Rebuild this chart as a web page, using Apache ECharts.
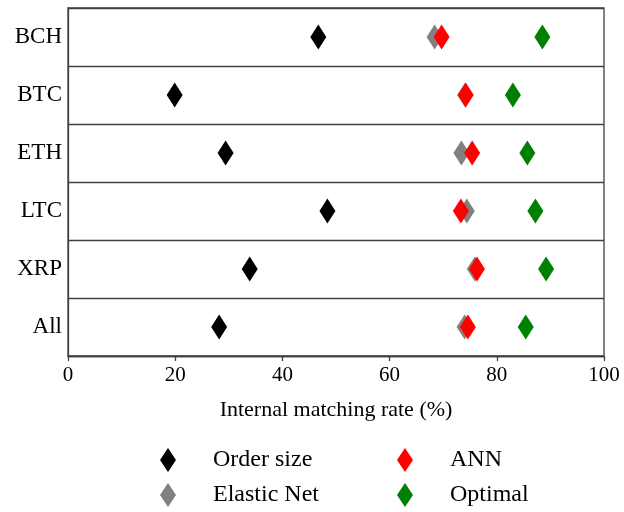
<!DOCTYPE html>
<html>
<head>
<meta charset="utf-8">
<script src="https://cdn.jsdelivr.net/npm/echarts@6/dist/echarts.min.js"></script>
<style>html,body{margin:0;padding:0;background:#fff;}#chart{width:624px;height:512px;}</style>
</head>
<body>
<div id="chart"></div>
<script>
const categories = ['BCH', 'BTC', 'ETH', 'LTC', 'XRP', 'All'];
const orderSize  = [46.7, 19.9, 29.4, 48.4, 33.9, 28.2];
const elasticNet = [68.4, 74.1, 73.4, 74.4, 75.9, 74.0];
const ann        = [69.7, 74.2, 75.4, 73.3, 76.3, 74.6];
const optimal    = [88.5, 83.0, 85.7, 87.2, 89.2, 85.4];
const xTicks = [0, 20, 40, 60, 80, 100];

const FONT = '"Liberation Serif", "DejaVu Serif", serif';
const chart = echarts.init(document.getElementById('chart'), null, {renderer: 'canvas'});

function mk(name, vals, color) {
  return {
    name: name,
    type: 'scatter',
    symbol: 'diamond',
    symbolSize: [16, 25],
    itemStyle: {color: color, opacity: 1},
    emphasis: {disabled: true},
    data: vals.map((v, i) => [v, categories[i]])
  };
}

function lg(name, left, top) {
  return {
    left: left, top: top,
    data: [name],
    icon: 'diamond',
    itemWidth: 16,
    itemHeight: 24,
    textStyle: {fontFamily: FONT, fontSize: 24, color: '#000', padding: [0, 0, 0, 32]},
    selectedMode: false,
    padding: 0
  };
}

chart.setOption({
  animation: false,
  backgroundColor: '#fff',
  grid: {left: 68, right: 20, top: 8, bottom: 156, show: true, borderColor: '#404040', borderWidth: 1.3, backgroundColor: 'transparent'},
  xAxis: {
    type: 'value', min: 0, max: 100, interval: 20,
    axisLine: {show: true, lineStyle: {color: '#404040', width: 1.3}},
    axisTick: {show: true, length: 5, lineStyle: {color: '#404040', width: 1.3}},
    splitLine: {show: false},
    axisLabel: {fontFamily: FONT, fontSize: 21, color: '#000', margin: 9,
      formatter: v => xTicks.includes(v) ? String(v) : ''},
    name: 'Internal matching rate (%)',
    nameLocation: 'middle', nameGap: 43,
    nameTextStyle: {fontFamily: FONT, fontSize: 22, color: '#000'}
  },
  yAxis: {
    type: 'category', data: categories, inverse: true,
    axisLine: {show: true, lineStyle: {color: '#404040', width: 1.3}},
    axisTick: {show: false},
    splitLine: {show: true, lineStyle: {color: '#404040', width: 1.3}},
    axisLabel: {fontFamily: FONT, fontSize: 23, color: '#000', margin: 6}
  },
  legend: [
    lg('Order size', 160, 448),
    lg('Elastic Net', 160, 483),
    lg('ANN', 397, 448),
    lg('Optimal', 397, 483)
  ],
  series: [
    mk('Order size', orderSize, '#000000'),
    mk('Elastic Net', elasticNet, '#808080'),
    mk('ANN', ann, '#ff0000'),
    mk('Optimal', optimal, '#008000')
  ]
});
</script>
</body>
</html>
